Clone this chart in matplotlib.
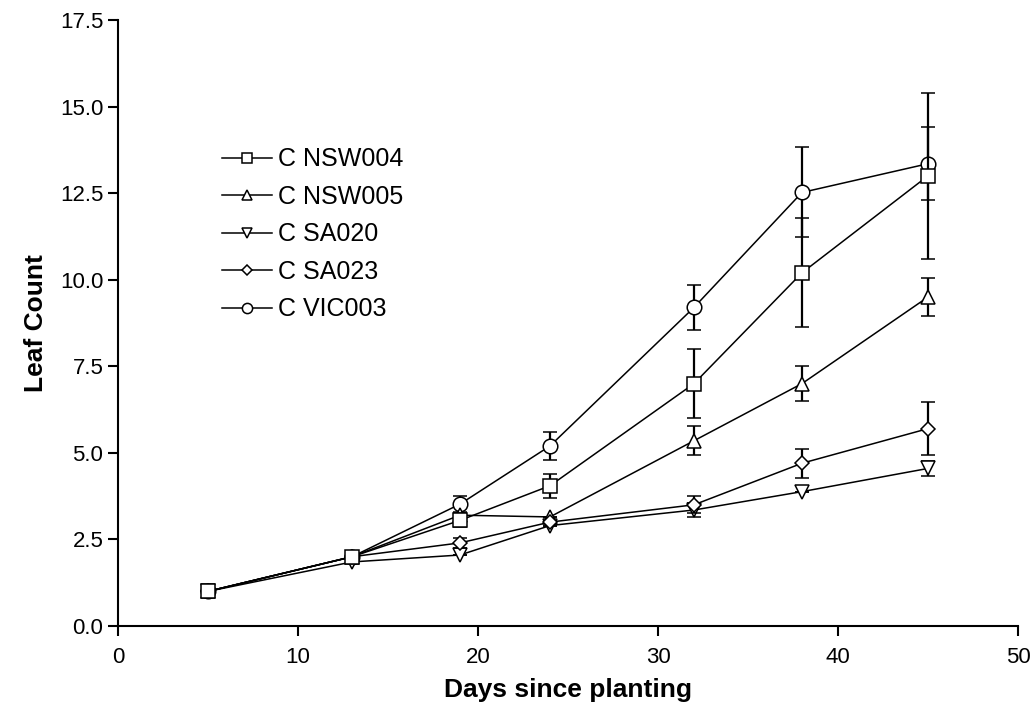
import matplotlib.pyplot as plt
from matplotlib.lines import Line2D
import numpy as np

plt.rcParams['font.family'] = ['Liberation Sans', 'DejaVu Sans']

dias = [5, 13, 19, 24, 32, 38, 45]

nsw004 = [1.0, 2.0, 3.05, 4.05, 7.0, 10.2, 13.0]
nsw004_err = [0, 0, 0.2, 0.35, 1.0, 1.57, 2.4]

nsw005 = [1.0, 2.0, 3.2, 3.15, 5.35, 7.0, 9.5]
nsw005_err = [0, 0, 0, 0, 0.42, 0.5, 0.56]

sa020 = [1.0, 1.85, 2.05, 2.9, 3.35, 3.88, 4.55]
sa020_err = [0, 0, 0, 0, 0.2, 0, 0.22]

sa023 = [1.0, 2.0, 2.4, 3.0, 3.5, 4.7, 5.7]
sa023_err = [0, 0, 0.15, 0, 0.25, 0.42, 0.76]

vic003 = [1.0, 2.0, 3.52, 5.2, 9.2, 12.52, 13.35]
vic003_err = [0, 0, 0.22, 0.4, 0.65, 1.3, 1.05]

nomes = ['C NSW004', 'C NSW005', 'C SA020', 'C SA023', 'C VIC003']
marcadores = ['s', '^', 'v', 'D', 'o']
tamanhos = [10, 10, 10, 7.5, 10.5]
series = [nsw004, nsw005, sa020, sa023, vic003]
erros = [nsw004_err, nsw005_err, sa020_err, sa023_err, vic003_err]

fig = plt.figure(figsize=(10.34, 7.07), dpi=100)
ax = fig.add_axes([118/1034, 1-626/707, 900/1034, 606/707])

# ordem de desenho: quadrado por cima
ordem = [4, 1, 2, 3, 0]
for z, i in enumerate(ordem):
    ax.errorbar(dias, series[i], yerr=erros[i], color='black', lw=1.1,
                marker=marcadores[i], markersize=tamanhos[i], mfc='white',
                mec='black', mew=1.1, elinewidth=1.6, capsize=5,
                capthick=1.6, zorder=2+z)

handles = [Line2D([], [], color='black', lw=1.1, marker=marcadores[i],
                  markersize=tamanhos[i]*0.7, mfc='white', mec='black',
                  mew=1.1) for i in range(5)]
ax.legend(handles, nomes, loc='upper left', bbox_to_anchor=(0.1156, 0.79),
          frameon=False, fontsize=18, handlelength=2.0, handletextpad=0.25,
          labelspacing=0.54, borderpad=0, borderaxespad=0)

ax.set_xlim(0, 50)
ax.set_ylim(0, 17.5)
ax.set_xticks([0, 10, 20, 30, 40, 50])
ax.set_yticks(np.arange(0, 17.6, 2.5))
ax.set_yticklabels(['%.1f' % v for v in np.arange(0, 17.6, 2.5)])
ax.spines['top'].set_visible(False)
ax.spines['right'].set_visible(False)
ax.spines['left'].set_linewidth(1.5)
ax.spines['bottom'].set_linewidth(1.5)
ax.tick_params(direction='out', length=7, width=1.5, labelsize=16)
ax.tick_params(axis='x', pad=8)

ax.set_xlabel('Days since planting', fontsize=19, fontweight='bold', labelpad=7)
ax.set_ylabel('Leaf Count', fontsize=19, fontweight='bold', labelpad=9)

fig.savefig('out.png', dpi=100)
